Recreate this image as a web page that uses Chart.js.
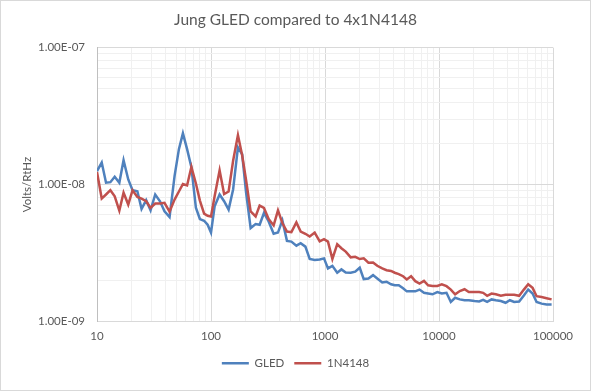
<!DOCTYPE html>
<html>
<head>
<meta charset="utf-8">
<script src="https://cdn.jsdelivr.net/npm/chart.js@4"></script>
<style>
  html, body { margin: 0; padding: 0; background: #fff; }
  #wrap { width: 591px; height: 391px; }
</style>
</head>
<body>
<div id="wrap"><canvas id="noiseChart"></canvas></div>
<script>
// ---------- DATA ----------
// frequency in Hz
const freqHz = [
  10, 11, 12, 13.1, 14.3, 15.7, 17.1, 18.8, 20.5, 22.6,
  24.6, 27, 29.5, 32.4, 35.7, 39.1, 43.3, 47.9, 52.3, 56.7,
  61.7, 67.3, 73.7, 79.9, 87, 93.4, 100, 107.6, 119, 130.3,
  142.7, 156.3, 172.3, 187.6, 203.3, 222.7, 246.4, 267.1, 291.3, 320.4,
  354.5, 386.8, 422.7, 463.8, 507, 561, 611.8, 673, 734.1, 812.1,
  898.5, 980, 1062, 1161, 1280, 1393, 1520, 1681, 1841, 2017,
  2187, 2404, 2639, 2873, 3178, 3467, 3797, 4092, 4436, 4840,
  5217, 5690, 6194, 6745, 7386, 8025, 8770, 9663, 10583, 11638,
  12694, 13850, 15226, 16747, 18270, 20498, 22497, 24391, 26445, 28909,
  31530, 34874, 38354, 41835, 45638, 50494, 55530, 60580, 66220, 71780,
  79420, 87860, 97200
];

// noise density in nV/rtHz
const gledNv = [
  12.55, 14.47, 10.31, 10.41, 11.41, 10.31, 15.04, 10.90, 9.09, 8.94,
  6.64, 7.68, 6.48, 8.46, 7.55, 6.37, 5.78, 11.53, 18.13, 23.65,
  18.13, 13.36, 6.78, 5.60, 5.44, 5.09, 4.46, 6.94, 8.46, 7.55,
  6.56, 9.20, 18.66, 16.65, 8.71, 4.81, 5.15, 5.09, 6.20, 5.38,
  4.37, 4.46, 5.47, 3.88, 3.83, 3.58, 3.73, 3.52, 2.86, 2.81,
  2.84, 2.89, 2.44, 2.55, 2.27, 2.40, 2.28, 2.27, 2.31, 2.47,
  2.04, 2.06, 2.18, 2.06, 1.93, 1.95, 1.87, 1.84, 1.84, 1.75,
  1.66, 1.66, 1.66, 1.71, 1.62, 1.60, 1.58, 1.64, 1.60, 1.62,
  1.39, 1.49, 1.45, 1.43, 1.43, 1.41, 1.40, 1.44, 1.39, 1.45,
  1.43, 1.41, 1.37, 1.43, 1.39, 1.40, 1.55, 1.71, 1.60, 1.39,
  1.35, 1.33, 1.33
];

const diodeNv = [
  12.34, 7.90, 8.46, 9.09, 8.21, 6.45, 8.71, 7.14, 9.09, 8.13,
  7.90, 7.55, 6.75, 7.26, 7.26, 7.35, 6.34, 7.77, 8.90, 10.10,
  9.85, 13.48, 10.19, 7.64, 6.13, 5.92, 5.85, 8.21, 12.70, 8.53,
  8.90, 14.92, 22.98, 16.37, 10.72, 6.37, 5.85, 7.02, 6.75, 5.60,
  5.03, 6.48, 5.24, 4.54, 4.49, 5.29, 4.54, 4.37, 4.17, 4.46,
  3.85, 3.99, 3.83, 2.86, 3.67, 3.43, 3.24, 2.94, 2.97, 2.86,
  2.89, 2.69, 2.70, 2.55, 2.44, 2.37, 2.34, 2.27, 2.22, 2.14,
  2.03, 2.14, 1.97, 1.89, 1.98, 1.84, 1.82, 1.82, 1.87, 1.81,
  1.71, 1.58, 1.67, 1.72, 1.64, 1.64, 1.64, 1.62, 1.54, 1.60,
  1.58, 1.54, 1.57, 1.57, 1.57, 1.54, 1.71, 1.87, 1.76, 1.53,
  1.51, 1.48, 1.45
];

const seriesNames = ["GLED", "1N4148"];
const chartTitle = "Jung GLED compared to 4x1N4148";
const yTitle = "Volts/RtHz";

// ---------- AXES ----------
const xDecades = [10, 100, 1000, 10000, 100000];
const xTickLabels = ["10", "100", "1000", "10000", "100000"];
const yDecades = [1e-9, 1e-8, 1e-7];
const yTickLabels = ["1.00E-09", "1.00E-08", "1.00E-07"];
const minorSteps = [2, 3, 4, 5, 6, 7, 8, 9];

// ---------- SETTINGS ----------
const TEXT = "#595959";
const BLUE = "#4f81bd";
const RED = "#c0504d";
const FONT = "Lato, 'Open Sans', sans-serif";

Chart.defaults.font.family = FONT;
Chart.defaults.color = TEXT;

// major gridline at each decade, minor ones between
function logTicks(decades) {
  const t = [];
  decades.forEach((d, i) => {
    t.push({ value: d, major: true });
    if (i < decades.length - 1) {
      minorSteps.forEach((m) => t.push({ value: d * m, major: false }));
    }
  });
  return t;
}

function decadeLabel(decades, labels, value) {
  const i = decades.findIndex((d) => Math.abs(d - value) / d < 1e-6);
  return i >= 0 ? labels[i] : "";
}

const gridColor = (c) => (c.tick && c.tick.major ? "#d9d9d9" : "#f0f0f0");

// ---------- PLUGIN: background + chart border ----------
const framePlugin = {
  id: "frame",
  beforeDraw(chart) {
    const ctx = chart.ctx;
    ctx.save();
    ctx.fillStyle = "#ffffff";
    ctx.fillRect(0, 0, chart.width, chart.height);
    ctx.restore();
  },
  afterDraw(chart) {
    const ctx = chart.ctx;
    ctx.save();
    ctx.strokeStyle = "#d9d9d9";
    ctx.lineWidth = 1;
    ctx.strokeRect(0.5, 0.5, chart.width - 1, chart.height - 1);
    ctx.restore();
  },
};

// ---------- CREATE CHART ----------
const ctx = document.getElementById("noiseChart").getContext("2d");

new Chart(ctx, {
  type: "line",
  data: {
    datasets: [
      {
        label: seriesNames[0],
        data: freqHz.map((f, i) => ({ x: f, y: gledNv[i] * 1e-9 })),
        borderColor: BLUE,
        backgroundColor: BLUE,
        borderWidth: 2.5,
        pointRadius: 0,
        tension: 0,
        order: 1,
      },
      {
        label: seriesNames[1],
        data: freqHz.map((f, i) => ({ x: f, y: diodeNv[i] * 1e-9 })),
        borderColor: RED,
        backgroundColor: RED,
        borderWidth: 2.5,
        pointRadius: 0,
        tension: 0,
        order: 0,
      },
    ],
  },
  options: {
    responsive: true,
    maintainAspectRatio: false,
    animation: false,
    devicePixelRatio: 1,
    layout: { padding: { top: 0, left: 0, right: 0, bottom: 12 } },

    scales: {
      x: {
        type: "logarithmic",
        position: "bottom",
        min: 10,
        max: 100000,
        afterBuildTicks: (s) => { s.ticks = logTicks(xDecades); },
        afterFit: (s) => { s.height = 26; },
        grid: { color: gridColor, drawTicks: false },
        border: { color: "#d9d9d9" },
        ticks: {
          autoSkip: false,
          maxRotation: 0,
          padding: 8,
          font: { size: 11.5 },
          callback: (v) => decadeLabel(xDecades, xTickLabels, v),
        },
      },
      y: {
        type: "logarithmic",
        position: "left",
        min: 1e-9,
        max: 1e-7,
        afterBuildTicks: (s) => { s.ticks = logTicks(yDecades); },
        afterFit: (s) => { s.width = 97; },
        grid: { color: gridColor, drawTicks: false },
        border: { color: "#bfbfbf" },
        title: {
          display: true,
          text: yTitle,
          font: { size: 11.5 },
          padding: { top: 20, bottom: 0 },
        },
        ticks: {
          autoSkip: false,
          padding: 12,
          font: { size: 11.5 },
          callback: (v) => decadeLabel(yDecades, yTickLabels, v),
        },
      },
      // empty right gutter so title/legend stay centred on the canvas
      gutter: {
        type: "linear",
        position: "right",
        grid: { display: false },
        border: { display: false },
        ticks: { display: false },
        afterFit: (s) => { s.width = 38; },
      },
    },

    plugins: {
      title: {
        display: true,
        text: chartTitle,
        color: TEXT,
        font: { size: 15.5, weight: "normal" },
        padding: { top: 11, bottom: 18 },
      },
      legend: {
        position: "bottom",
        labels: {
          boxWidth: 27,
          boxHeight: 0,
          padding: 10,
          color: TEXT,
          font: { size: 11.5 },
          sort: (a, b) => a.datasetIndex - b.datasetIndex,
        },
      },
      tooltip: { enabled: false },
    },
  },
  plugins: [framePlugin],
});
</script>
</body>
</html>
